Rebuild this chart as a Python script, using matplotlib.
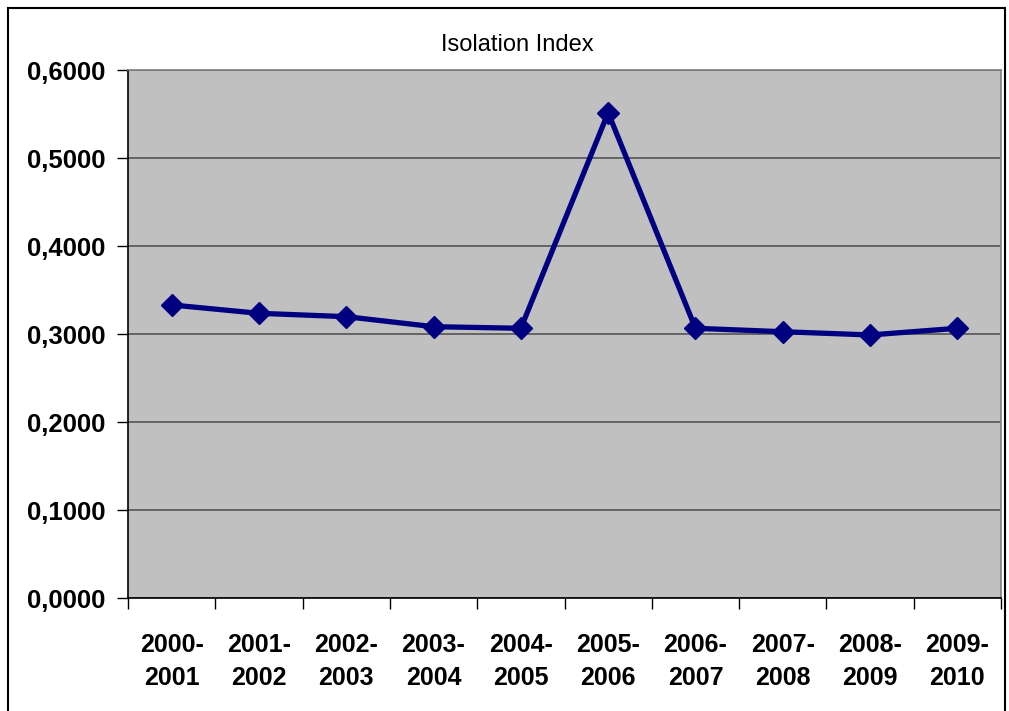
import matplotlib.pyplot as plt
from matplotlib.patches import Rectangle
from matplotlib.ticker import FixedLocator, FuncFormatter

periods = ["2000-\n2001", "2001-\n2002", "2002-\n2003", "2003-\n2004", "2004-\n2005",
           "2005-\n2006", "2006-\n2007", "2007-\n2008", "2008-\n2009", "2009-\n2010"]
index_values = [0.333, 0.3235, 0.3197, 0.3083, 0.3065, 0.5515, 0.3065, 0.3026, 0.2989, 0.3065]
y_ticks = [0.0, 0.1, 0.2, 0.3, 0.4, 0.5, 0.6]

plt.rcParams["font.family"] = ["Liberation Sans", "DejaVu Sans"]

fig = plt.figure(figsize=(10.09, 7.11), dpi=100)
ax = fig.add_axes([128 / 1009, 113 / 711, (1001 - 128) / 1009, (598 - 70) / 711])
ax.set_facecolor("#c0c0c0")

x = list(range(len(periods)))
ax.plot(x, index_values, color="#000080", linewidth=3.8, marker="D",
        markersize=11.5, markerfacecolor="#000080", markeredgecolor="#000080", zorder=3)

ax.set_xlim(-0.5, len(periods) - 0.5)
ax.set_ylim(0, 0.6)

# gridlines
ax.set_yticks(y_ticks)
ax.yaxis.set_major_formatter(FuncFormatter(lambda v, p: f"{v:.4f}".replace(".", ",")))
ax.grid(True, axis="y", color="#555555", linewidth=1.2, zorder=1)
ax.set_axisbelow(True)

# category ticks at boundaries, labels centred
ax.xaxis.set_major_locator(FixedLocator([i - 0.5 for i in range(len(periods) + 1)]))
ax.xaxis.set_major_formatter(FuncFormatter(lambda v, p: ""))
ax.xaxis.set_minor_locator(FixedLocator(x))
ax.set_xticklabels(periods, minor=True)
ax.tick_params(axis="x", which="major", direction="out", length=8, width=1, color="black")
ax.tick_params(axis="x", which="minor", length=0, pad=25, labelsize=18)
ax.tick_params(axis="y", direction="out", length=8, width=1, color="black", pad=8, labelsize=18.5)
for lab in ax.get_xticklabels(minor=True) + ax.get_yticklabels():
    lab.set_fontweight("bold")
for lab in ax.get_xticklabels(minor=True):
    lab.set_linespacing(1.5)

ax.spines["left"].set_color("black")
ax.spines["bottom"].set_color("black")
ax.spines["top"].set_color("#808080")
ax.spines["right"].set_color("#808080")
for s in ax.spines.values():
    s.set_linewidth(1.2)

fig.text(517 / 1009, 1 - 45 / 711, "Isolation Index", ha="center", va="center", fontsize=17)

# outer chart frame
fig.patches.append(Rectangle((8 / 1009, -0.05), (1005 - 8) / 1009, 1.05 - 8 / 711,
                             transform=fig.transFigure, fill=False, edgecolor="black",
                             linewidth=1.5))

plt.savefig("out.png", dpi=100)
plt.close()
